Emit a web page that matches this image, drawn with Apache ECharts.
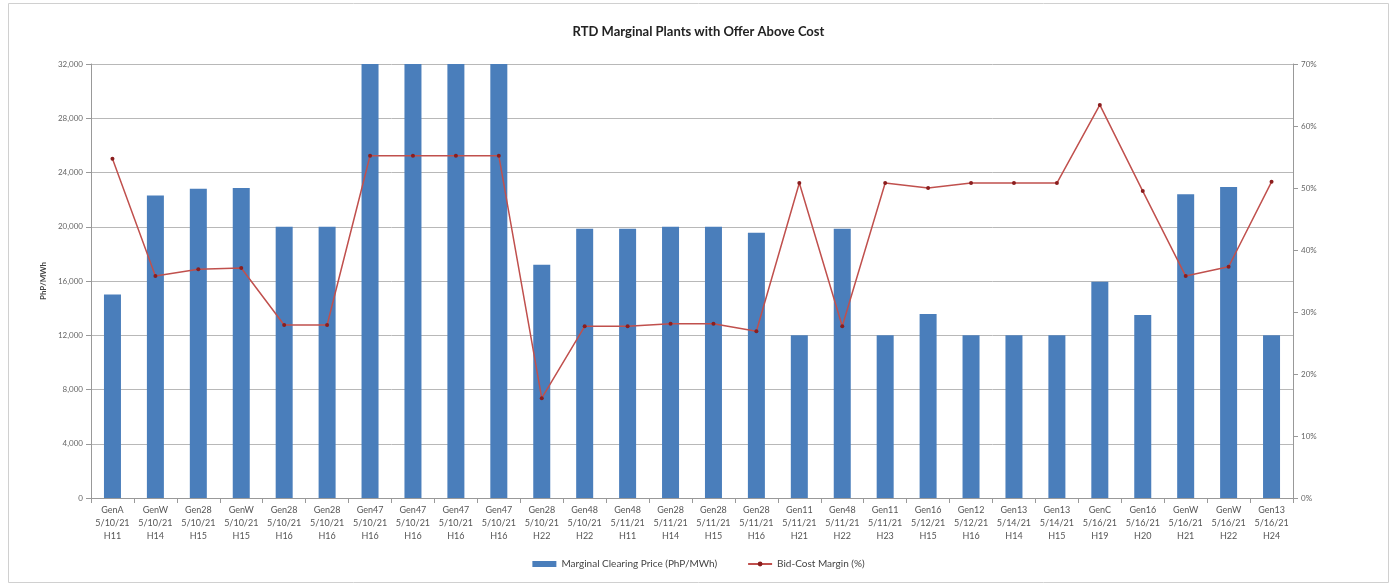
<!DOCTYPE html>
<html>
<head>
<meta charset="utf-8">
<script src="https://cdn.jsdelivr.net/npm/echarts@6/dist/echarts.min.js"></script>
<style>
html,body{margin:0;padding:0;background:#fff;}
#c{width:1397px;height:586px;}
</style>
</head>
<body>
<div id="c"></div>
<script>
const plants = ["GenA","GenW","Gen28","GenW","Gen28","Gen28","Gen47","Gen47","Gen47","Gen47","Gen28","Gen48","Gen48","Gen28","Gen28","Gen28","Gen11","Gen48","Gen11","Gen16","Gen12","Gen13","Gen13","GenC","Gen16","GenW","GenW","Gen13"];
const dates = ["5/10/21","5/10/21","5/10/21","5/10/21","5/10/21","5/10/21","5/10/21","5/10/21","5/10/21","5/10/21","5/10/21","5/10/21","5/11/21","5/11/21","5/11/21","5/11/21","5/11/21","5/11/21","5/11/21","5/12/21","5/12/21","5/14/21","5/14/21","5/16/21","5/16/21","5/16/21","5/16/21","5/16/21"];
const hours = ["H11","H14","H15","H15","H16","H16","H16","H16","H16","H16","H22","H22","H11","H14","H15","H16","H21","H22","H23","H15","H16","H14","H15","H19","H20","H21","H22","H24"];
const clearingPrice = [15000,22300,22800,22850,20000,20000,32000,32000,32000,32000,17200,19850,19850,20000,20000,19550,12000,19850,12000,13570,12000,12000,12000,15950,13500,22400,22930,12000];
const bidCostMargin = [54.7,35.8,36.9,37.1,27.9,27.9,55.2,55.2,55.2,55.2,16.1,27.7,27.7,28.1,28.1,26.9,50.8,27.7,50.8,50.0,50.8,50.8,50.8,63.4,49.5,35.8,37.3,51.0];
const leftTicks = {min:0, max:32000, interval:4000};
const rightTicks = {min:0, max:70, interval:10};

const categories = plants.map((p,i)=>p+"\n"+dates[i]+"\n"+hours[i]);
const chart = echarts.init(document.getElementById('c'));
const font = "Lato, 'Open Sans', sans-serif";
chart.setOption({
  animation:false,
  backgroundColor:'#fff',
  textStyle:{fontFamily:font},
  graphic:[{type:'rect',shape:{x:8.5,y:3.5,width:1380,height:579},style:{fill:'none',stroke:'#d0d0d0',lineWidth:1},silent:true}],
  title:{text:'RTD Marginal Plants with Offer Above Cost',left:'center',top:20,textStyle:{fontSize:13,fontWeight:'bold',color:'#222',fontFamily:font}},
  legend:{bottom:12,left:'center',itemGap:30,textStyle:{fontSize:10,color:'#444'},
    data:[{name:'Marginal Clearing Price (PhP/MWh)',icon:'rect',itemStyle:{color:'#4a7ebb'}},{name:'Bid-Cost Margin (%)'}],
    itemWidth:24,itemHeight:6},
  grid:{left:91,right:104,top:64,bottom:88},
  xAxis:{type:'category',data:categories,
    axisLine:{lineStyle:{color:'#999'}},
    axisTick:{show:true,lineStyle:{color:'#999'}},
    axisLabel:{interval:0,fontSize:9,color:'#555',lineHeight:13,margin:6}},
  yAxis:[{type:'value',min:leftTicks.min,max:leftTicks.max,interval:leftTicks.interval,
      name:'PhP/MWh',nameLocation:'middle',nameGap:44,nameTextStyle:{fontSize:8,color:'#444',fontWeight:'bold'},
      axisLine:{show:true,lineStyle:{color:'#999'}},axisTick:{show:true,lineStyle:{color:'#999'}},
      splitLine:{lineStyle:{color:'#b8b8b8'}},
      axisLabel:{fontSize:8,color:'#666',formatter:v=>v.toLocaleString('en-US')}},
    {type:'value',min:rightTicks.min,max:rightTicks.max,interval:rightTicks.interval,position:'right',
      axisLine:{show:true,lineStyle:{color:'#999'}},axisTick:{show:true,lineStyle:{color:'#999'}},
      splitLine:{show:false},
      axisLabel:{fontSize:8,color:'#666',formatter:'{value}%'}}],
  series:[{name:'Marginal Clearing Price (PhP/MWh)',type:'bar',data:clearingPrice,barWidth:17,
      itemStyle:{color:'#4a7ebb'}},
    {name:'Bid-Cost Margin (%)',type:'line',yAxisIndex:1,data:bidCostMargin,
      symbol:'circle',symbolSize:4,lineStyle:{color:'#c0504d',width:1.5},itemStyle:{color:'#8b1e1e'}}]
});
</script>
</body>
</html>
